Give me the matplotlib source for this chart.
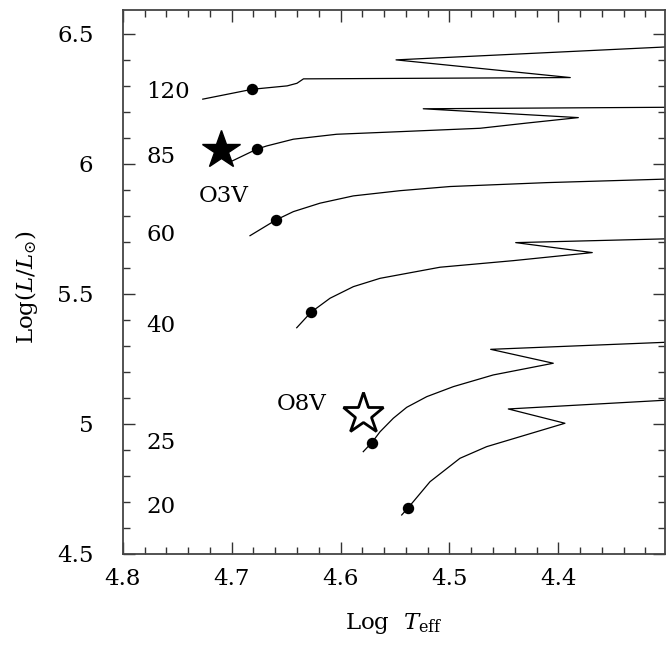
import matplotlib
matplotlib.use('Agg')
import matplotlib.pyplot as plt
from matplotlib.ticker import MultipleLocator, FixedLocator, FixedFormatter

plt.rcParams['font.family'] = ['DejaVu Serif']
plt.rcParams['mathtext.fontset'] = 'dejavuserif'

# ---- data: evolutionary tracks (log Teff, log L/Lsun) ----
masses = ['120', '85', '60', '40', '25', '20']

t120 = [4.7265, 4.681, 4.649, 4.640, 4.634, 4.389, 4.549, 4.29]
l120 = [6.249, 6.287, 6.300, 6.310, 6.327, 6.332, 6.400, 6.452]

t85 = [4.7006, 4.677, 4.6678, 4.6433, 4.6035, 4.5454, 4.4719, 4.429, 4.3816, 4.524, 4.29]
l85 = [6.009, 6.0565, 6.069, 6.095, 6.114, 6.124, 6.137, 6.157, 6.178, 6.212, 6.218]

t60 = [4.6831, 4.6592, 4.6433, 4.6188, 4.5882, 4.5454, 4.4994, 4.4107, 4.29]
l60 = [5.724, 5.7846, 5.8165, 5.849, 5.877, 5.897, 5.913, 5.928, 5.943]

t40 = [4.6402, 4.6271, 4.6096, 4.5882, 4.5637, 4.5086, 4.4413, 4.3688, 4.4391, 4.29]
l40 = [5.370, 5.4296, 5.4835, 5.528, 5.560, 5.6027, 5.628, 5.659, 5.6973, 5.713]

t25 = [4.5791, 4.5713, 4.5637, 4.5515, 4.5392, 4.5208, 4.4964, 4.4597, 4.4046, 4.4621, 4.29]
l25 = [4.8935, 4.928, 4.970, 5.022, 5.064, 5.105, 5.1435, 5.1885, 5.2335, 5.287, 5.316]

t20 = [4.5438, 4.5383, 4.5332, 4.5178, 4.4903, 4.4658, 4.4352, 4.3939, 4.4459, 4.29]
l20 = [4.650, 4.6758, 4.701, 4.778, 4.868, 4.9127, 4.951, 5.0027, 5.0577, 5.094]

tracks_t = [t120, t85, t60, t40, t25, t20]
tracks_l = [l120, l85, l60, l40, l25, l20]

# filled dots on each track
dot_t = [4.681, 4.677, 4.6592, 4.6271, 4.5713, 4.5383]
dot_l = [6.287, 6.0565, 5.7846, 5.4296, 4.928, 4.6758]

# spectral-type stars
star_names = ['O3V', 'O8V']
star_t = [4.710, 4.5798]
star_l = [6.052, 5.038]

# axis ticks
xticks = [4.8, 4.7, 4.6, 4.5, 4.4]
xticklabels = ['4.8', '4.7', '4.6', '4.5', '4.4']
yticks = [4.5, 5.0, 5.5, 6.0, 6.5]
yticklabels = ['4.5', '5', '5.5', '6', '6.5']

# label positions (layout)
mass_label_x = 4.7785
mass_label_y = [6.277, 6.027, 5.727, 5.377, 4.927, 4.682]
star_label_xy = [(4.707, 5.875), (4.6356, 5.078)]

fig = plt.figure(figsize=(6.67, 6.5), dpi=100)
ax = fig.add_axes([0.184, 0.1477, 0.813, 0.837])

for t, l in zip(tracks_t, tracks_l):
    ax.plot(t, l, color='black', lw=0.9)

ax.plot(dot_t, dot_l, 'o', color='black', ms=7.2, ls='none')

ax.plot(star_t[0], star_l[0], marker='*', color='black', ms=29, ls='none')
ax.plot(star_t[1], star_l[1], marker='*', mfc='white', mec='black', mew=2.0, ms=31, ls='none')

fs = 16.5
for name, y in zip(masses, mass_label_y):
    ax.text(mass_label_x, y, name, fontsize=fs, ha='left', va='center')
for name, (x, y) in zip(star_names, star_label_xy):
    ax.text(x, y, name, fontsize=fs, ha='center', va='center')

ax.set_xlim(4.8, 4.302)
ax.set_ylim(4.5, 6.592)

ax.xaxis.set_major_locator(FixedLocator(xticks))
ax.xaxis.set_major_formatter(FixedFormatter(xticklabels))
ax.yaxis.set_major_locator(FixedLocator(yticks))
ax.yaxis.set_major_formatter(FixedFormatter(yticklabels))
ax.xaxis.set_minor_locator(MultipleLocator(0.02))
ax.yaxis.set_minor_locator(MultipleLocator(0.1))

ax.tick_params(which='both', direction='in', top=True, right=True,
               color='#333333', width=1.0)
ax.tick_params(which='major', length=8.5, labelsize=16.5)
ax.tick_params(which='minor', length=4.8)
ax.tick_params(axis='x', which='major', pad=10)
ax.tick_params(axis='y', which='major', pad=21)

for s in ax.spines.values():
    s.set_color('#444444')
    s.set_linewidth(1.3)

ax.set_xlabel(r'$\mathrm{Log}\ \ T_{\mathrm{eff}}$', fontsize=16.5)
ax.set_ylabel(r'$\mathrm{Log}(L/L_{\odot})$', fontsize=16.5)
ax.xaxis.set_label_coords(0.5, -0.105)
ax.yaxis.set_label_coords(-0.152, 0.49)

fig.savefig('out.png', dpi=100)
